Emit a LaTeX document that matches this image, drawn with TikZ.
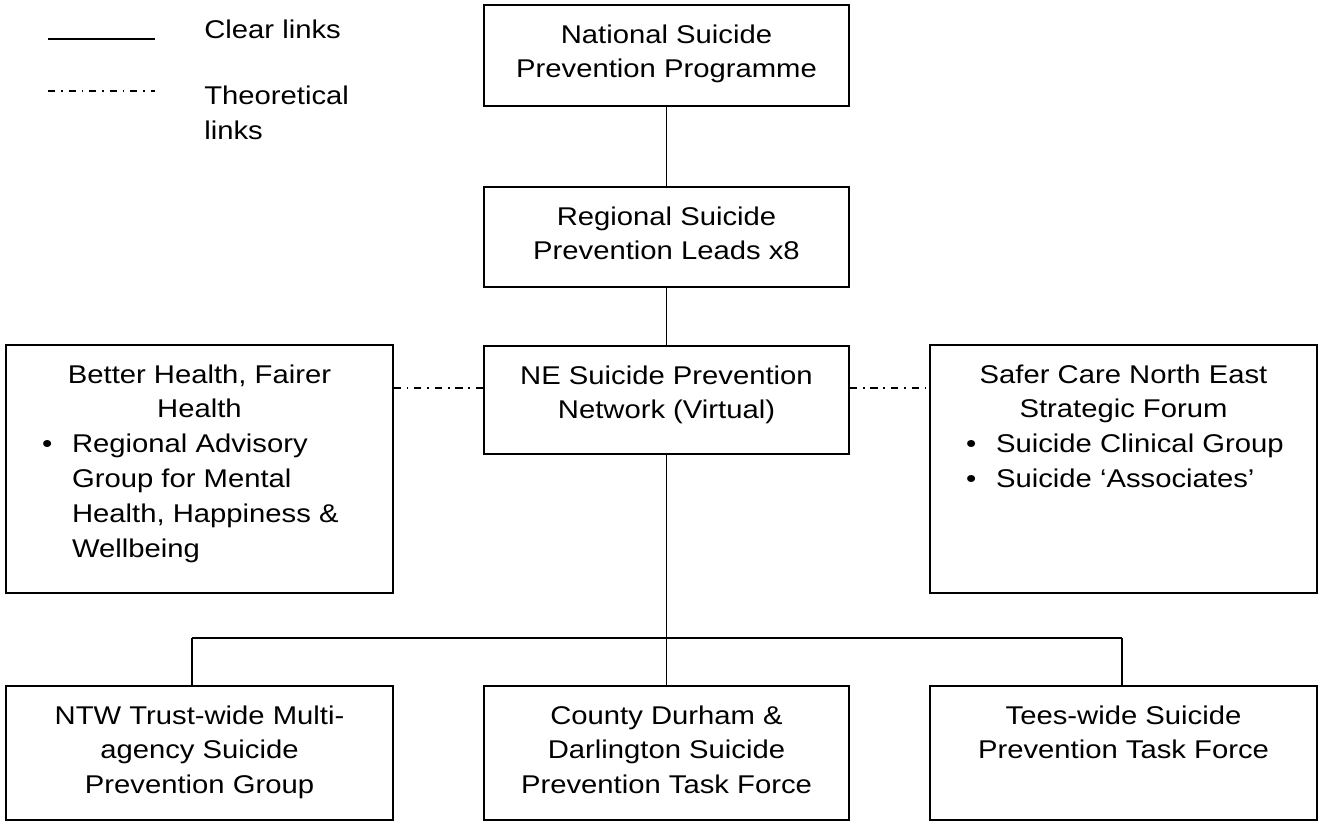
\documentclass[tikz,border=0pt]{standalone}
\usepackage{fontspec}
\setmainfont{Liberation Sans}[FakeStretch=1.14]
\usepackage{tikz}

\newcommand{\boxtext}[3]{\parbox[c][#2][t]{#1}{\centering\rule{0pt}{0.76cm}#3}}
\newcommand{\bul}{\hspace*{0.72cm}\makebox[0.6cm][l]{\textbullet}}
\newcommand{\ind}{\hspace*{1.32cm}}

\tikzset{
  box/.style={draw, line width=1.1pt, inner sep=0pt},
  clear/.style={line width=1.1pt},
  theo/.style={line width=0.8pt, dash pattern=on 4pt off 3.4pt on 0.9pt off 3.4pt}
}

\begin{document}
\begin{tikzpicture}[x=0.02cm, y=-0.02cm, every node/.style={font=\fontsize{14.6pt}{19.9pt}\selectfont}]
    \useasboundingbox (0, 0) rectangle (1319, 821);
    % key
    \coordinate (k1) at (48, 39);
    \coordinate (k2) at (155, 39);
    \coordinate (k3) at (48, 91);
    \coordinate (k4) at (155, 91);
    \draw [clear] (k1) -- (k2);
    \draw [theo] (k3) -- (k4);
    \node[anchor=base west, inner sep=0pt] (lc) at (204, 39) {Clear links};
    \node[anchor=north west, inner sep=0pt, align=left] (lt) at (204, 86) {Theoretical\\links};
    % boxes
    \node[box] (nat) at (666.5, 55.5) {\boxtext{7.3cm}{2.02cm}{National Suicide\\ Prevention Programme}};
    \node[box] (reg) at (666.5, 237) {\boxtext{7.3cm}{2cm}{Regional Suicide\\ Prevention Leads x8}};
    \node[box] (ne) at (666.5, 400) {\boxtext{7.3cm}{2.16cm}{NE Suicide Prevention\\ Network (Virtual)}};
    \node[box] (bh) at (199.5, 469) {\boxtext{7.74cm}{4.96cm}{Better Health, Fairer\\ Health\par\raggedright
      \bul Regional Advisory\\ \ind Group for Mental\\ \ind Health, Happiness \&\\ \ind Wellbeing}};
    \node[box] (sc) at (1123.5, 469) {\boxtext{7.74cm}{4.96cm}{Safer Care North East\\ Strategic Forum\par\raggedright
      \bul Suicide Clinical Group\\ \bul Suicide ‘Associates’}};
    \node[box] (ntw) at (199.5, 753) {\boxtext{7.74cm}{2.68cm}{NTW Trust-wide Multi-\\ agency Suicide\\ Prevention Group}};
    \node[box] (cd) at (666.5, 753) {\boxtext{7.3cm}{2.68cm}{County Durham \&\\ Darlington Suicide\\ Prevention Task Force}};
    \node[box] (tw) at (1123.5, 753) {\boxtext{7.74cm}{2.68cm}{Tees-wide Suicide\\ Prevention Task Force}};
    % links
    \coordinate (bl) at (192, 638);
    \coordinate (br) at (1122, 638);
    \draw [clear] (nat) -- (reg);
    \draw [clear] (reg) -- (ne);
    \draw [clear] (ne) -- (cd);
    \draw [clear] (bl) -- (br);
    \draw [clear] (bl) -- (bl |- ntw.north);
    \draw [clear] (br) -- (br |- tw.north);
    \draw [theo] ([yshift=0.24cm]ne.west) -- ([yshift=0.24cm]ne.west -| bh.east);
    \draw [theo] ([yshift=0.24cm]ne.east) -- ([yshift=0.24cm]ne.east -| sc.west);
\end{tikzpicture}
\end{document}
